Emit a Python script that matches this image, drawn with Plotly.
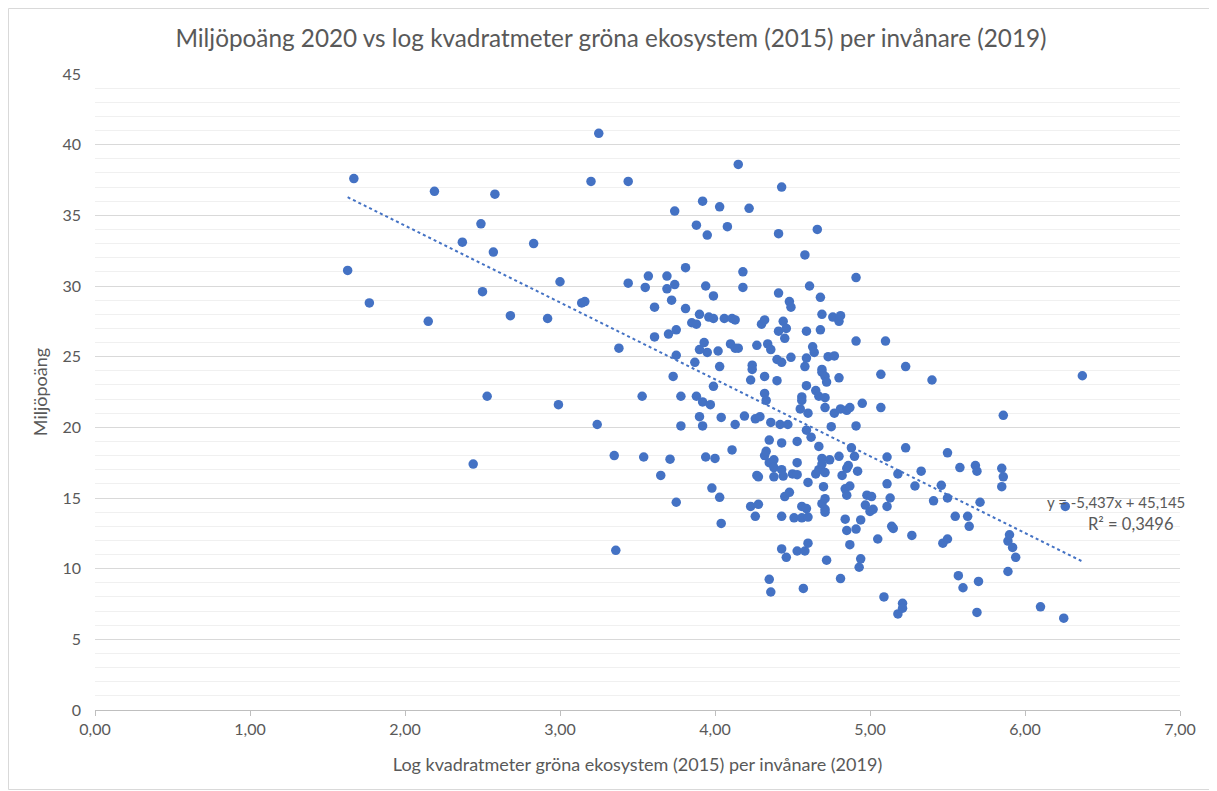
import plotly.graph_objects as go

x_vals = [
    1.63, 1.67, 1.77, 2.15, 2.19, 2.37, 2.44, 2.49, 2.50, 2.53, 2.57, 2.58, 2.68, 2.83, 2.92, 2.99, 3.00,
    3.14, 3.16, 3.20, 3.24, 3.25, 3.35, 3.36, 3.38, 3.44, 3.44, 3.53, 3.54, 3.55, 3.57, 3.61, 3.61, 3.65,
    3.69, 3.69, 3.70, 3.71, 3.72, 3.73, 3.74, 3.74, 3.75, 3.75, 3.75, 3.78, 3.78, 3.81, 3.81, 3.85, 3.87,
    3.88, 3.88, 3.88, 3.90, 3.90, 3.90, 3.92, 3.92, 3.92, 3.93, 3.94, 3.94, 3.95, 3.95, 3.96, 3.97, 3.98,
    3.99, 3.99, 3.99, 4.00, 4.02, 4.03, 4.03, 4.03, 4.04, 4.04, 4.06, 4.08, 4.10, 4.11, 4.11, 4.13, 4.13,
    4.13, 4.15, 4.15, 4.18, 4.18, 4.19, 4.22, 4.23, 4.23, 4.24, 4.24, 4.26, 4.26, 4.27, 4.27, 4.28, 4.28,
    4.29, 4.30, 4.32, 4.32, 4.32, 4.32, 4.33, 4.33, 4.34, 4.35, 4.35, 4.35, 4.36, 4.36, 4.36, 4.38, 4.38,
    4.38, 4.40, 4.40, 4.41, 4.41, 4.41, 4.42, 4.43, 4.43, 4.43, 4.43, 4.43, 4.43, 4.44, 4.44, 4.45, 4.45,
    4.46, 4.46, 4.47, 4.48, 4.48, 4.49, 4.49, 4.50, 4.51, 4.53, 4.53, 4.53, 4.53, 4.55, 4.56, 4.56, 4.56,
    4.56, 4.57, 4.58, 4.58, 4.58, 4.59, 4.59, 4.59, 4.59, 4.59, 4.60, 4.60, 4.60, 4.60, 4.61, 4.62, 4.63,
    4.64, 4.65, 4.65, 4.66, 4.67, 4.67, 4.67, 4.68, 4.68, 4.69, 4.69, 4.69, 4.69, 4.69, 4.69, 4.70, 4.71,
    4.71, 4.71, 4.71, 4.71, 4.71, 4.71, 4.72, 4.72, 4.73, 4.74, 4.75, 4.76, 4.77, 4.77, 4.80, 4.80, 4.80,
    4.81, 4.81, 4.81, 4.82, 4.84, 4.84, 4.85, 4.85, 4.85, 4.85, 4.86, 4.87, 4.87, 4.87, 4.88, 4.90, 4.91,
    4.91, 4.91, 4.91, 4.92, 4.93, 4.94, 4.94, 4.95, 4.97, 4.98, 5.00, 5.01, 5.02, 5.05, 5.07, 5.07, 5.09,
    5.10, 5.11, 5.11, 5.11, 5.13, 5.14, 5.15, 5.18, 5.18, 5.21, 5.21, 5.23, 5.23, 5.27, 5.29, 5.33, 5.40,
    5.41, 5.46, 5.47, 5.50, 5.50, 5.50, 5.55, 5.57, 5.58, 5.60, 5.63, 5.64, 5.68, 5.69, 5.69, 5.70, 5.71,
    5.85, 5.85, 5.86, 5.86, 5.89, 5.89, 5.90, 5.92, 5.94, 6.10, 6.25, 6.26, 6.37,
]

y_vals = [
    31.1, 37.6, 28.8, 27.5, 36.7, 33.1, 17.4, 34.4, 29.6, 22.2, 32.4, 36.5, 27.9, 33.0, 27.7, 21.6, 30.3,
    28.8, 28.9, 37.4, 20.2, 40.8, 18.0, 11.3, 25.6, 37.4, 30.2, 22.2, 17.9, 29.9, 30.7, 28.5, 26.4, 16.6,
    30.7, 29.8, 26.6, 17.75, 29.0, 23.6, 35.3, 30.1, 26.9, 25.1, 14.7, 22.2, 20.1, 31.3, 28.4, 27.4, 24.6,
    34.3, 27.3, 22.2, 28.0, 25.5, 20.75, 36.0, 21.8, 20.1, 26.0, 30.0, 17.9, 33.6, 25.3, 27.8, 21.6, 15.7,
    29.3, 27.7, 22.9, 17.8, 25.4, 35.6, 24.3, 15.05, 20.7, 13.2, 27.7, 34.2, 25.9, 27.7, 18.4, 27.6, 25.6,
    20.2, 38.6, 25.6, 31.0, 29.9, 20.8, 35.5, 23.35, 14.4, 24.4, 24.1, 20.6, 13.7, 25.8, 16.6, 16.5, 14.55,
    20.75, 27.3, 27.6, 23.6, 22.4, 18.0, 21.9, 18.3, 25.9, 19.1, 17.5, 9.25, 25.5, 20.35, 8.35, 17.7, 17.15,
    16.5, 24.8, 23.3, 33.7, 29.5, 26.8, 20.2, 37.0, 24.6, 18.9, 17.0, 13.7, 11.4, 27.5, 16.55, 26.3, 15.1,
    27.0, 10.8, 20.2, 28.9, 15.4, 28.5, 24.95, 16.7, 13.6, 19.0, 17.5, 16.65, 11.25, 21.3, 22.15, 21.9, 14.4,
    13.6, 8.6, 32.2, 24.3, 11.25, 26.8, 24.9, 22.95, 19.8, 14.25, 21.0, 16.1, 13.65, 11.8, 30.0, 19.3, 25.7,
    25.3, 22.6, 16.7, 34.0, 22.2, 18.65, 17.0, 29.2, 26.9, 28.0, 24.1, 23.9, 17.8, 17.4, 14.6, 15.8, 23.6,
    22.1, 21.4, 16.8, 14.95, 14.2, 14.0, 23.2, 10.6, 25.0, 17.7, 20.05, 27.8, 25.05, 21.0, 27.5, 23.5, 17.95,
    27.9, 21.3, 9.3, 16.6, 15.65, 13.5, 21.2, 17.1, 15.2, 12.7, 17.3, 21.4, 15.85, 11.7, 18.55, 17.95, 30.6,
    26.1, 20.1, 12.8, 16.9, 10.1, 13.45, 10.7, 21.7, 14.5, 15.2, 14.05, 15.1, 14.2, 12.1, 23.75, 21.4, 8.0,
    26.1, 17.9, 16.0, 14.4, 15.0, 13.0, 12.85, 16.7, 6.8, 7.55, 7.2, 24.3, 18.55, 12.35, 15.85, 16.9, 23.35,
    14.8, 15.9, 11.8, 18.2, 15.0, 12.1, 13.7, 9.5, 17.15, 8.65, 13.7, 13.0, 17.3, 16.9, 6.9, 9.1, 14.7,
    17.1, 15.8, 20.85, 16.5, 11.95, 9.8, 12.4, 11.5, 10.8, 7.3, 6.5, 14.4, 23.65,
]

trend_slope = -5.437
trend_intercept = 45.145
trend_label = ["y = -5,437x + 45,145", "R² = 0,3496"]

x_tick_vals = [0, 1, 2, 3, 4, 5, 6, 7]
x_tick_text = ["0,00", "1,00", "2,00", "3,00", "4,00", "5,00", "6,00", "7,00"]
y_tick_vals = [0, 5, 10, 15, 20, 25, 30, 35, 40, 45]

title_text = "Miljöpoäng 2020 vs log kvadratmeter gröna ekosystem (2015) per invånare (2019)"
x_title = "Log kvadratmeter gröna ekosystem (2015) per invånare (2019)"
y_title = "Miljöpoäng"

BLUE = "#4472C4"
TXT = "#595959"
FONT = "Lato, 'Open Sans', sans-serif"

n = min(len(x_vals), len(y_vals))
xs = x_vals[:n]
ys = y_vals[:n]

fig = go.Figure()
fig.add_trace(go.Scatter(
    x=xs, y=ys, mode="markers",
    marker=dict(color=BLUE, size=9.5, line=dict(width=0)),
    showlegend=False, hoverinfo="x+y",
))

tx = [min(xs), max(xs)]
ty = [trend_slope * v + trend_intercept for v in tx]
fig.add_trace(go.Scatter(
    x=tx, y=ty, mode="lines",
    line=dict(color=BLUE, width=2, dash="dot"),
    showlegend=False, hoverinfo="skip",
))

# page has a default 8px body margin; lay out in page pixels and compensate
OFF = 8
W, H = 1217 - OFF, 791 - OFF
PL, PR, PT, PB = 95, 1180, 74, 710  # plot area in page pixels
L, T = PL - OFF, PT - OFF
R, B = W - (PR - OFF), H - (PB - OFF)
pw, ph = PR - PL, PB - PT

def px2paper_x(px):
    return (px - PL) / pw

def py2paper_y(py):
    return (PB - py) / ph

fig.add_annotation(
    x=px2paper_x(1116), y=py2paper_y(502), xref="paper", yref="paper",
    text=trend_label[0], showarrow=False, xanchor="center", yanchor="middle",
    font=dict(family=FONT, size=15, color=TXT),
)
fig.add_annotation(
    x=px2paper_x(1130), y=py2paper_y(524), xref="paper", yref="paper",
    text=trend_label[1], showarrow=False, xanchor="center", yanchor="middle",
    font=dict(family=FONT, size=16.5, color=TXT),
)

fig.add_shape(
    type="rect", xref="paper", yref="paper",
    x0=px2paper_x(OFF + 0.5), x1=px2paper_x(1212.5), y0=py2paper_y(789.5), y1=py2paper_y(OFF + 0.5),
    line=dict(color="#d9d9d9", width=1), fillcolor="rgba(0,0,0,0)", layer="below",
)

fig.update_layout(
    width=W, height=H,
    margin=dict(l=L, r=R, t=T, b=B),
    paper_bgcolor="white", plot_bgcolor="white",
    font=dict(family=FONT, color=TXT, size=16),
    title=dict(text=title_text, x=(611 - OFF) / W, xanchor="center", y=1 - (38 - OFF) / H, yanchor="middle",
               font=dict(family=FONT, size=24.3, color=TXT)),
    xaxis=dict(
        range=[0, 7], tickvals=x_tick_vals, ticktext=x_tick_text,
        showgrid=False, zeroline=False,
        showline=True, linecolor="#bfbfbf", linewidth=1,
        ticks="outside", ticklen=5, tickcolor="#bfbfbf",
        tickfont=dict(family=FONT, size=16, color=TXT),
        title=dict(text=x_title, font=dict(family=FONT, size=18, color=TXT), standoff=21),
    ),
    yaxis=dict(
        range=[0, 45], tickvals=y_tick_vals,
        showgrid=True, gridcolor="#d9d9d9", gridwidth=1,
        zeroline=False, showline=False,
        minor=dict(dtick=1, showgrid=True, gridcolor="#f0f0f0", gridwidth=1),
        tickfont=dict(family=FONT, size=16, color=TXT),
        ticks="", ticklabelstandoff=13,
        title=dict(text=y_title, font=dict(family=FONT, size=18, color=TXT), standoff=10),
    ),
)

fig.write_html("out.html")
